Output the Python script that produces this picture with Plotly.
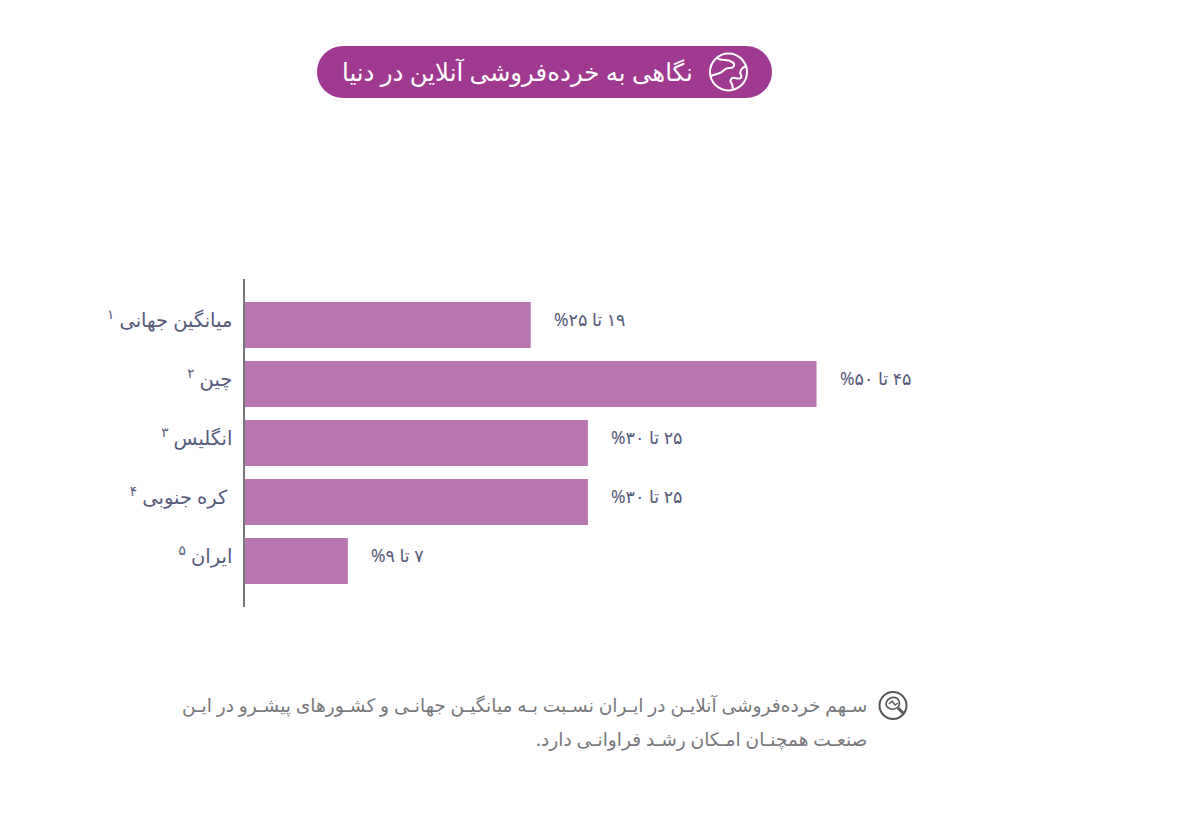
import plotly.graph_objects as go

# The page sits 8px in from the window edge, so positions below are window pixels minus that
PAGE_PAD = 8
W = 1179 - PAGE_PAD
H = 825 - PAGE_PAD

RLM = "\u200f"
NBSP = "\u00a0"

# Data
categories = ["میانگین جهانی", "چین", "انگلیس", NBSP + "کره جنوبی", "ایران"]
notes = ["۱", "۲", "۳", "۴", "۵"]
upper_share = [25, 50, 30, 30, 9]
value_labels = ["۱۹ تا ۲۵", "۴۵ تا ۵۰", "۲۵ تا ۳۰", "۲۵ تا ۳۰", "۷ تا ۹"]

title_text = "نگاهی به خرده‌فروشی آنلاین در دنیا"
note_lines = [
    "سـهم خرده‌فروشی آنلایـن در ایـران نسـبت بـه میانگیـن جهانـی و کشـورهای پیشـرو در ایـن",
    "صنعـت همچنـان امـکان رشـد فراوانـی دارد.",
]

FONT = "Noto Sans, DejaVu Sans, sans-serif"
BAR = "#b776b0"
PILL = "#a03a90"
INK = "#565b7a"
GREY = "#77787c"


def px(x):
    return (x - PAGE_PAD) / W


def py(y):
    return 1 - (y - PAGE_PAD) / H


def path(cmds):
    # cmds are (letter, x, y, x, y ...) in window pixels
    out = []
    for c in cmds:
        pts = c[1:]
        s = c[0]
        for i in range(0, len(pts), 2):
            s += f" {px(pts[i]):.5f},{py(pts[i + 1]):.5f}"
        out.append(s)
    return " ".join(out)


def circle(cx, cy, r, color, width):
    return dict(type="circle", xref="paper", yref="paper", layer="above",
                x0=px(cx - r), x1=px(cx + r), y0=py(cy + r), y1=py(cy - r),
                line=dict(color=color, width=width), fillcolor="rgba(0,0,0,0)")


def stroke(cmds, color, width):
    return dict(type="path", xref="paper", yref="paper", layer="above", path=path(cmds),
                line=dict(color=color, width=width), fillcolor="rgba(0,0,0,0)")


fig = go.Figure()

fig.add_trace(go.Bar(
    x=upper_share,
    y=list(range(len(categories))),
    orientation="h",
    width=0.78,
    marker=dict(color=BAR, line=dict(width=0)),
    hoverinfo="skip",
))

# Value labels just past the bar ends
annotations = []
for i, (v, lab) in enumerate(zip(upper_share, value_labels)):
    annotations.append(dict(
        x=v, y=i, xref="x", yref="y", xanchor="left", yanchor="middle",
        xshift=21, yshift=6, showarrow=False,
        text=RLM + lab + RLM + "%" + RLM,
        font=dict(family=FONT, size=17.5, color=INK),
    ))

# Title and footnote
annotations.append(dict(
    x=px(695), y=py(71), xref="paper", yref="paper", xanchor="right", yanchor="middle",
    showarrow=False, text=RLM + title_text + RLM,
    font=dict(family=FONT, size=24.4, color="white"),
))
for line, y in zip(note_lines, [704, 738]):
    annotations.append(dict(
        x=px(869), y=py(y), xref="paper", yref="paper", xanchor="right", yanchor="middle",
        showarrow=False, text=RLM + line + RLM,
        font=dict(family=FONT, size=18.6, color=GREY),
    ))

shapes = [
    # title pill
    dict(type="path", xref="paper", yref="paper", layer="below", line=dict(width=0), fillcolor=PILL,
         path=path([
             ("M", 343, 46), ("L", 746, 46),
             ("C", 760.4, 46, 772, 57.6, 772, 72), ("C", 772, 86.4, 760.4, 98, 746, 98),
             ("L", 343, 98),
             ("C", 328.6, 98, 317, 86.4, 317, 72), ("C", 317, 57.6, 328.6, 46, 343, 46),
             ("Z",),
         ])),
    # globe icon
    circle(728.5, 72, 18.5, "white", 2),
    stroke([("M", 717, 58), ("C", 722, 62, 727, 58, 732, 62), ("C", 736, 64, 734, 68, 730, 68),
            ("C", 724, 67, 724, 72, 720, 73), ("L", 710.5, 76)], "white", 2),
    stroke([("M", 746, 66), ("C", 741, 68, 739, 72, 741, 75), ("C", 743, 79, 738, 79, 735, 78),
            ("C", 731, 77, 729, 81, 732, 84), ("L", 733, 89)], "white", 2),
    # footnote icon
    circle(893, 705.5, 13.5, "#55565a", 2),
    stroke([("M", 886, 704), ("C", 887, 697, 896, 695, 899, 701), ("C", 901, 706, 896, 710, 891, 709),
            ("C", 888, 708, 886, 707, 886, 704)], "#55565a", 1.6),
    stroke([("M", 889, 704), ("L", 892, 701), ("L", 895, 705), ("L", 898, 703)], "#55565a", 1.4),
    stroke([("M", 898, 708), ("L", 903, 713)], "#55565a", 3),
]

fig.update_layout(
    width=W,
    height=H,
    margin=dict(l=0, r=0, t=0, b=0),
    paper_bgcolor="white",
    plot_bgcolor="white",
    showlegend=False,
    annotations=annotations,
    shapes=shapes,
    font=dict(family=FONT),
    xaxis=dict(domain=[px(245), px(1001)], range=[0, 756 / 11.43], visible=False),
    yaxis=dict(
        domain=[py(607), py(279)],
        range=[4.78, -0.78],
        tickmode="array",
        tickvals=list(range(len(categories))),
        ticktext=[RLM + c + " <sup>" + n + "</sup>" + RLM for c, n in zip(categories, notes)],
        tickfont=dict(family=FONT, size=19.5, color=INK),
        ticks="",
        ticklabelstandoff=7,
        ticklabelshift=5,
        showgrid=False,
        zeroline=False,
        showline=True,
        linecolor="#77777b",
        linewidth=1.5,
    ),
)

fig.write_html("out.html")
